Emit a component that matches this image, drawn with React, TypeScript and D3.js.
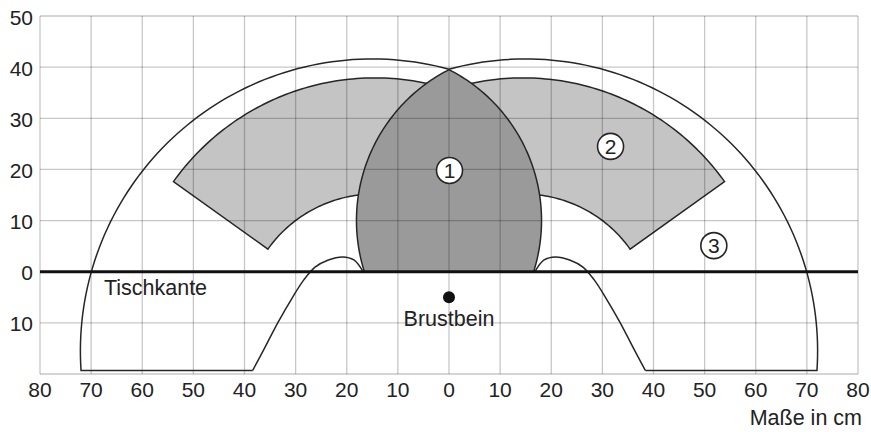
import React, { useRef, useEffect } from 'react';
import * as d3 from 'd3';

// axis ticks (cm); labels below 0 are shown without sign
const xTickValues = [-80, -70, -60, -50, -40, -30, -20, -10, 0, 10, 20, 30, 40, 50, 60, 70, 80];
const yTickValues = [50, 40, 30, 20, 10, 0, -10];
const gridX = [-80, -70, -60, -50, -40, -30, -20, -10, 0, 10, 20, 30, 40, 50, 60, 70, 80];
const gridY = [-20, -10, 0, 10, 20, 30, 40, 50];

// zone 1: lens, each edge is an arc [centerX, centerY, radius] (mirrored for the other edge)
const zone1Edge = [15, 10, 33.1];
// zone 2: annular sector [centerX, centerY, innerR, outerR, startDeg, endDeg] (right side, mirrored)
const zone2Sector = [14.5, -10.5, 25.7, 48.4, 35.5, 110];
// zone 3: outer reach arc [centerX, centerY, radius] (right side, mirrored)
const zone3Arc = [15, -15.5, 57.1];
const bodyBottom = -19.3;
// left shoulder outline, bottom to the lens edge
const shoulderLeft: [number, number][] = [
  [-38.4, -19.3],
  [-36.1, -15],
  [-33.5, -10],
  [-30.6, -5],
  [-28.4, -1.6],
  [-26.2, 0.9],
  [-23.6, 2.3],
  [-20.8, 2.9],
  [-18.6, 2.3],
  [-16.8, 0],
];
const zoneLabels = [
  { label: '1', x: 0.1, y: 19.8 },
  { label: '2', x: 31.6, y: 24.5 },
  { label: '3', x: 51.8, y: 5.1 },
];
const sternum = [0, -5];

const W = 871;
const H = 432;
const FONT = "'Liberation Sans', Arial, Helvetica, sans-serif";

const rad = (a: number) => (a * Math.PI) / 180;
const deg = (a: number) => (a * 180) / Math.PI;

// points along an arc in data units
const arcPts = (cx: number, cy: number, r: number, a0: number, a1: number, n = 80): [number, number][] =>
  d3.range(n + 1).map((i) => {
    const a = rad(a0 + ((a1 - a0) * i) / n);
    return [cx + r * Math.cos(a), cy + r * Math.sin(a)] as [number, number];
  });

const App: React.FC = () => {
  const svgRef = useRef<SVGSVGElement>(null);

  useEffect(() => {
    if (!svgRef.current) return;
    const svg = d3.select(svgRef.current);
    svg.selectAll('*').remove();

    const x = d3.scaleLinear().domain([-80, 80]).range([40, 858]);
    const y = d3.scaleLinear().domain([-20, 50]).range([374, 16]);

    const line = d3
      .line<[number, number]>()
      .x((d) => x(d[0]))
      .y((d) => y(d[1]));
    const smooth = d3
      .line<[number, number]>()
      .x((d) => x(d[0]))
      .y((d) => y(d[1]))
      .curve(d3.curveCatmullRom.alpha(0.5));

    svg.append('rect').attr('width', W).attr('height', H).attr('fill', '#fff');

    const stroke = '#262626';

    // zone 2 sectors
    const [scx, scy, rIn, rOut, a0, a1] = zone2Sector;
    const sectorPath = (sign: number) => {
      const cx = sign * scx;
      const s0 = sign > 0 ? a0 : 180 - a0;
      const s1 = sign > 0 ? a1 : 180 - a1;
      const pts = [...arcPts(cx, scy, rOut, s0, s1), ...arcPts(cx, scy, rIn, s1, s0)];
      return line(pts) + 'Z';
    };
    [1, -1].forEach((s) => {
      svg
        .append('path')
        .attr('d', sectorPath(s))
        .attr('fill', '#c4c4c4')
        .attr('stroke', stroke)
        .attr('stroke-width', 1.5)
        .attr('stroke-linejoin', 'miter');
    });

    // zone 1 lens
    const [lcx, lcy, lr] = zone1Edge;
    const apexY = lcy + Math.sqrt(lr * lr - lcx * lcx);
    const baseX = lcx - Math.sqrt(lr * lr - lcy * lcy);
    const leftStart = deg(Math.atan2(0 - lcy, baseX - lcx)) + 360;
    const leftEnd = deg(Math.atan2(apexY - lcy, 0 - lcx));
    const rightStart = deg(Math.atan2(apexY - lcy, 0 + lcx));
    const rightEnd = deg(Math.atan2(0 - lcy, -baseX + lcx));
    const lensPts = [
      ...arcPts(lcx, lcy, lr, leftStart, leftEnd),
      ...arcPts(-lcx, lcy, lr, rightStart, rightEnd),
    ];
    const lensD = line(lensPts) + 'Z';
    svg.append('path').attr('d', lensD).attr('fill', '#9a9a9a');

    // grid
    const grid = svg.append('g').attr('stroke', '#000').attr('stroke-opacity', 0.22).attr('stroke-width', 1.3);
    gridX.forEach((v) => {
      grid.append('line').attr('x1', x(v)).attr('x2', x(v)).attr('y1', y(-20)).attr('y2', y(50));
    });
    gridY.forEach((v) => {
      grid.append('line').attr('x1', x(-80)).attr('x2', x(80)).attr('y1', y(v)).attr('y2', y(v));
    });

    svg
      .append('path')
      .attr('d', lensD)
      .attr('fill', 'none')
      .attr('stroke', stroke)
      .attr('stroke-width', 1.5);

    // zone 3 outer arcs with bottom lines
    const [ocx, ocy, orr] = zone3Arc;
    const oApexY = ocy + Math.sqrt(orr * orr - ocx * ocx);
    [1, -1].forEach((s) => {
      const cx = s * ocx;
      const bottomA = deg(Math.asin((bodyBottom - ocy) / orr));
      const apexA = deg(Math.atan2(oApexY - ocy, 0 - cx));
      const startA = s > 0 ? bottomA : 180 - bottomA;
      const pts: [number, number][] = [
        [s * -shoulderLeft[0][0], bodyBottom],
        ...arcPts(cx, ocy, orr, startA, apexA),
      ];
      svg
        .append('path')
        .attr('d', line(pts))
        .attr('fill', 'none')
        .attr('stroke', stroke)
        .attr('stroke-width', 1.5);
    });

    // shoulders
    const shoulderRight = shoulderLeft.map((p) => [-p[0], p[1]] as [number, number]);
    [shoulderLeft, shoulderRight].forEach((pts) => {
      svg
        .append('path')
        .attr('d', smooth(pts))
        .attr('fill', 'none')
        .attr('stroke', stroke)
        .attr('stroke-width', 1.5);
    });

    // table edge
    svg
      .append('line')
      .attr('x1', x(-80))
      .attr('x2', x(80))
      .attr('y1', y(0))
      .attr('y2', y(0))
      .attr('stroke', '#111')
      .attr('stroke-width', 3);

    // sternum
    svg.append('circle').attr('cx', x(sternum[0])).attr('cy', y(sternum[1])).attr('r', 6).attr('fill', '#111');

    // zone labels
    zoneLabels.forEach((z) => {
      svg
        .append('circle')
        .attr('cx', x(z.x))
        .attr('cy', y(z.y))
        .attr('r', 13)
        .attr('fill', '#fff')
        .attr('stroke', stroke)
        .attr('stroke-width', 1.6);
      svg
        .append('text')
        .attr('x', x(z.x))
        .attr('y', y(z.y) + 7.5)
        .attr('text-anchor', 'middle')
        .attr('font-family', FONT)
        .attr('font-size', 21)
        .attr('fill', '#222')
        .text(z.label);
    });

    // tick labels
    xTickValues.forEach((v) => {
      svg
        .append('text')
        .attr('x', x(v))
        .attr('y', 397)
        .attr('text-anchor', 'middle')
        .attr('font-family', FONT)
        .attr('font-size', 21)
        .attr('fill', '#222')
        .text(Math.abs(v));
    });
    yTickValues.forEach((v) => {
      svg
        .append('text')
        .attr('x', 33)
        .attr('y', y(v) + 8.5)
        .attr('text-anchor', 'end')
        .attr('font-family', FONT)
        .attr('font-size', 21)
        .attr('fill', '#222')
        .text(Math.abs(v));
    });

    const note = (tx: number, ty: number, anchor: string, s: string) =>
      svg
        .append('text')
        .attr('x', tx)
        .attr('y', ty)
        .attr('text-anchor', anchor)
        .attr('font-family', FONT)
        .attr('font-size', 21.5)
        .attr('fill', '#222')
        .text(s);

    note(x(-67.5), y(0) + 23, 'start', 'Tischkante');
    note(x(0), y(-5) + 28.5, 'middle', 'Brustbein');
    note(862, 425, 'end', 'Maße in cm');
  }, []);

  return (
    <svg
      ref={svgRef}
      width={W}
      height={H}
      style={{ position: 'absolute', left: 0, top: 0, display: 'block' }}
    />
  );
};

export default App;
